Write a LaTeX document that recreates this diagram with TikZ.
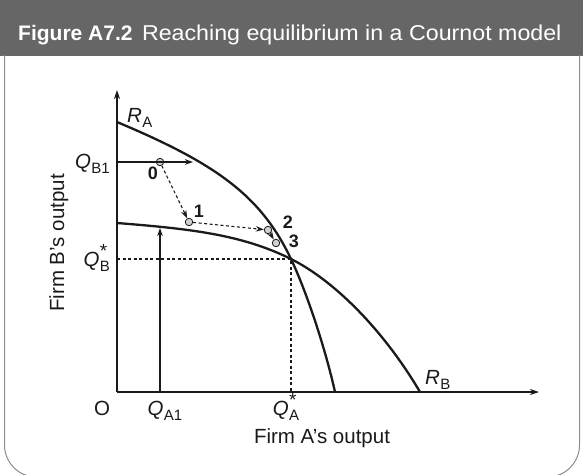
\documentclass[tikz,border=0pt]{standalone}
\usepackage{fontspec}
\setmainfont{Liberation Sans}
\usetikzlibrary{arrows.meta}
\definecolor{hdr}{HTML}{666666}
\definecolor{ink}{HTML}{1A1A1A}
\definecolor{frame}{HTML}{8C8C8C}
\definecolor{dotfill}{HTML}{D0D0D0}
\newcommand\subt[1]{\raisebox{-0.28em}{\fontsize{15}{15}\selectfont #1}}
\newcommand\qs[1]{\textit{Q}\kern0.3pt\subt{#1}}
\newcommand\qst[1]{\textit{Q}\kern0.3pt\makebox[0pt][l]{\raisebox{0.42em}{\fontsize{19}{19}\selectfont *}}\subt{#1}}
\newcommand\rs[1]{\textit{R}\kern0.3pt\subt{#1}}
\begin{document}
\begin{tikzpicture}[x=1pt,y=-1pt,
  lab/.style={text=ink,font=\fontsize{20.5}{23}\selectfont,inner sep=0pt},
  num/.style={text=ink,font=\fontsize{18}{20}\selectfont\bfseries,inner sep=0pt,anchor=base},
  axis/.style={draw=ink,line width=1.4pt,-{Stealth[length=9pt,width=6pt]}},
  curve/.style={draw=ink,line width=2.3pt},
  guide/.style={draw=ink,line width=1.1pt,dash pattern=on 3pt off 2.5pt},
  darr/.style={draw=ink,line width=1.1pt,dash pattern=on 3pt off 2.5pt,-{Stealth[length=8pt,width=5.5pt]}},
  sarr/.style={draw=ink,line width=1.2pt,-{Stealth[length=8pt,width=5.5pt]}},
  pt/.style={circle,draw=ink,fill=dotfill,line width=0.8pt,minimum size=7.5pt,inner sep=0pt}]
\useasboundingbox (0,0) rectangle (583,474);
% frame
\fill[hdr] (0,0) rectangle (583,55.5);
\draw[frame,line width=1pt,rounded corners=32pt] (4.5,55) -- (4.5,477) -- (579.5,477) -- (579.5,55);
\node[anchor=base west,text=white,font=\fontsize{21}{24}\selectfont,inner sep=0pt] (title) at (18,40)
  {\textbf{Figure A7.2}\hspace{0.45em}\scalebox{1.08}[1]{\fontsize{21.5}{24}\selectfont Reaching equilibrium in a Cournot model}};
% axes
\coordinate (O) at (117,392);
\coordinate (ytop) at (117,90);
\coordinate (xend) at (539,392);
\draw[axis] (O) -- (ytop);
\draw[axis] (O) -- (xend);
% reaction curves
\coordinate (E) at (291,259);
\draw[curve] (117,122) .. controls (217,164) and (261,196) .. (E)
             .. controls (306,290.5) and (325,347) .. (335,392);
\draw[curve] (117,223) .. controls (187,228.6) and (241,234) .. (E)
             .. controls (336,281.5) and (385,332.5) .. (420,392);
% equilibrium guides
\coordinate (yE) at (117,259);
\coordinate (xE) at (291,392);
\draw[guide] (yE) -- (E) -- (xE);
% points
\node[pt] (p0) at (160,162) {};
\node[pt] (p1) at (189,222) {};
\node[pt] (p2) at (268,230) {};
\node[pt] (p3) at (276,243) {};
\coordinate (yB1) at (117,162);
\coordinate (hitA) at (193,162);
\coordinate (xA1) at (160,392);
\coordinate (hitB) at (160,228);
\draw[sarr] (yB1) -- (hitA);
\draw[sarr] (xA1) -- (hitB);
\draw[darr] (p0) -- (p1);
\draw[darr] (p1) -- (p2);
\draw[darr] (p2) -- (p3);
% numbers
\node[num] (n0) at (153,179) {0};
\node[num] (n1) at (199,217) {1};
\node[num] (n2) at (288,228) {2};
\node[num] (n3) at (294,247) {3};
% labels
\node[lab,anchor=base west] (RA) at (127,122) {\rs{A}};
\node[lab,anchor=base west] (RB) at (425,384) {\rs{B}};
\node[lab,anchor=base east] (QB1) at (110,168) {\qs{B1}};
\node[lab,anchor=base east] (QBs) at (110,266) {\qst{B}};
\node[lab,anchor=base] (Olab) at (102,415) {O};
\node[lab,anchor=base] (QA1) at (165,415) {\qs{A1}};
\node[lab,anchor=base] (QAs) at (286,415) {\qst{A}};
\node[lab,anchor=base] (xlab) at (322,443) {Firm A’s output};
\node[lab,anchor=base,rotate=90] (ylab) at (64,243) {Firm B’s output};
\end{tikzpicture}
\end{document}
